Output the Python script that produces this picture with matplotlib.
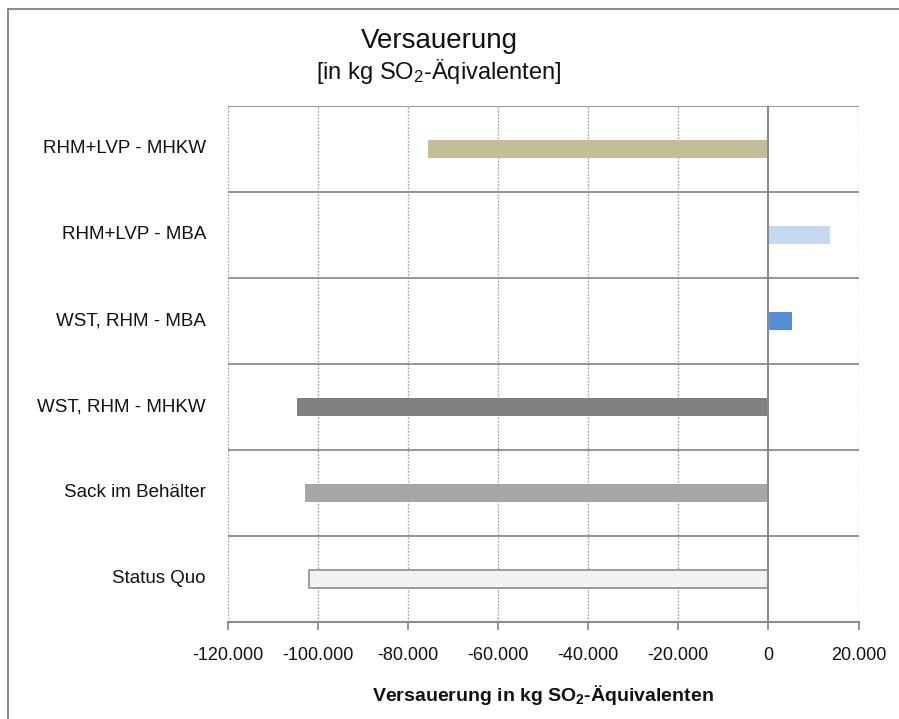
import matplotlib
matplotlib.use("Agg")
import matplotlib.pyplot as plt
from matplotlib.ticker import FuncFormatter, FixedLocator
import matplotlib.transforms as mtransforms
from matplotlib.lines import Line2D

plt.rcParams['font.family'] = ['Liberation Sans', 'DejaVu Sans']
plt.rcParams['mathtext.fontset'] = 'custom'
plt.rcParams['mathtext.rm'] = 'Liberation Sans'
plt.rcParams['mathtext.it'] = 'Liberation Sans'
plt.rcParams['mathtext.bf'] = 'Liberation Sans:bold'

# Scenarios, bottom to top
categories = ["Status Quo", "Sack im Behälter", "WST, RHM - MHKW",
              "WST, RHM - MBA", "RHM+LVP - MBA", "RHM+LVP - MHKW"]
values = [-102000, -102800, -104600, 5200, 13600, -75700]
colors = ["#F2F2F2", "#A6A6A6", "#808080", "#558ED5", "#C6D9F1", "#C4BD97"]
edgecolors = ["#8C8C8C", "none", "none", "none", "none", "none"]
xticks = [-120000, -100000, -80000, -60000, -40000, -20000, 0, 20000]

W, H = 899, 719
fig = plt.figure(figsize=(W / 100, H / 100), dpi=100)
ax = fig.add_axes([228 / W, 1 - 621.5 / H, (858.5 - 228) / W, (621.5 - 106) / H])

ypos = list(range(len(categories)))
ax.barh(ypos, values, height=0.21, color=colors, edgecolor=edgecolors,
        linewidth=1.2, zorder=3)

ax.set_xlim(xticks[0], xticks[-1])
ax.set_ylim(-0.5, len(categories) - 0.5)

# dotted vertical grid
for xv in xticks:
    if xv == 0:
        continue
    ax.axvline(xv, color="#A0A0A0", lw=1.0, ls=(0, (1.2, 1.2)), zorder=1)
# zero axis line
ax.axvline(0, color="#8C8C8C", lw=1.5, zorder=4)
# category separators
for yb in [i + 0.5 for i in range(len(categories))]:
    ax.axhline(yb, color="#8C8C8C", lw=1.3, zorder=2)

for s in ["left", "right", "top"]:
    ax.spines[s].set_visible(False)
ax.spines["bottom"].set_color("#8C8C8C")
ax.spines["bottom"].set_linewidth(1.5)

ax.xaxis.set_major_locator(FixedLocator(xticks))


def fmt(v, pos):
    s = f"{abs(int(round(v))):,}".replace(",", ".")
    return ("-" if v < 0 else "") + s


ax.xaxis.set_major_formatter(FuncFormatter(fmt))
ax.tick_params(axis="x", direction="out", length=6, width=1.3,
               color="#8C8C8C", labelsize=13, pad=12, labelcolor="#111111")
ax.set_yticks([])

# category labels, right-aligned in the left margin
trans = mtransforms.blended_transform_factory(fig.transFigure, ax.transData)
for y, c in zip(ypos, categories):
    ax.text(206 / W, y, c, transform=trans, ha="right", va="center",
            fontsize=13.5, color="#111111")

ax.set_xlabel(r"Versauerung in kg SO$_\mathbf{2}$-Äquivalenten",
              fontsize=14, fontweight="bold", labelpad=14, color="#111111")

fig.text(439 / W, 1 - 41 / H, "Versauerung", ha="center", va="center",
         fontsize=20, color="#111111")
fig.text(439 / W, 1 - 71 / H, r"[in kg SO$_2$-Äqivalenten]", ha="center",
         va="center", fontsize=17, color="#111111")

# chart frame (top and left edges)
fig.add_artist(Line2D([8 / W, 8 / W, 1.0], [0, 1 - 9 / H, 1 - 9 / H],
                      transform=fig.transFigure, color="#8C8C8C", lw=1.5))

fig.savefig("out.png", dpi=100)
